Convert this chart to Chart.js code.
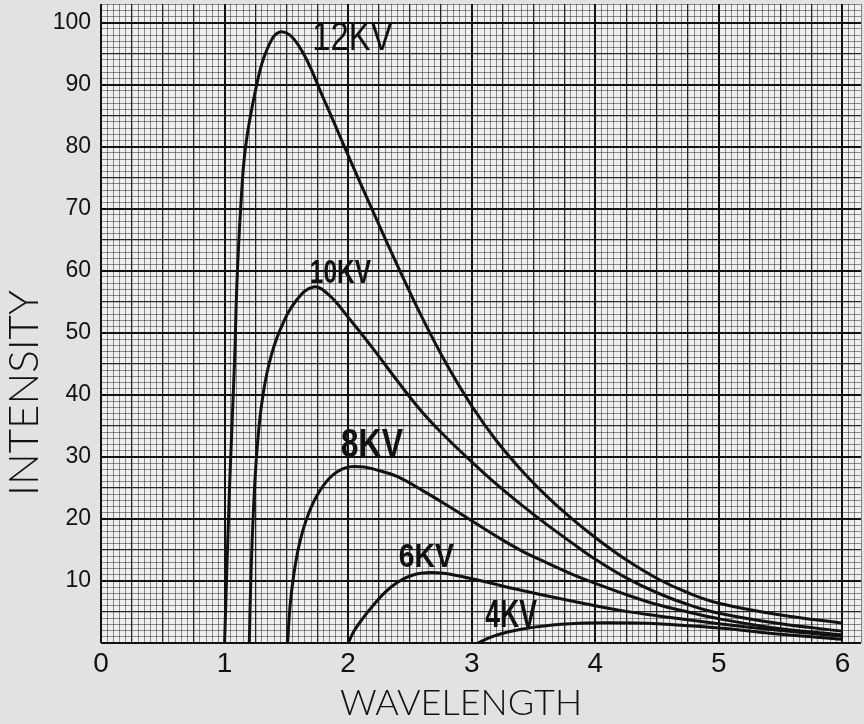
<!DOCTYPE html>
<html>
<head>
<meta charset="utf-8">
<script src="https://cdn.jsdelivr.net/npm/chart.js@4.4.1/dist/chart.umd.min.js"></script>
<style>
  html, body { margin: 0; padding: 0; background: #e2e2e2; }
  #wrap { width: 864px; height: 724px; }
</style>
</head>
<body>
<div id="wrap"><canvas id="chart"></canvas></div>
<script>
// curve values
const curveNames = ['12KV', '10KV', '8KV', '6KV', '4KV'];

const wl12 = [1.0, 1.04, 1.08, 1.10, 1.13, 1.17, 1.26, 1.34, 1.45, 1.6, 1.8, 2.0, 2.2, 2.4, 2.6, 2.8, 3.0, 3.2, 3.4, 3.6, 3.8, 4.0, 4.25, 4.5, 4.75, 5.0, 5.5, 6.0];
const int12 = [0, 25, 45, 58, 70, 80, 90, 95.5, 98.5, 96.3, 87.8, 78.6, 69.6, 60.8, 52.4, 44.8, 38.2, 32.6, 27.9, 23.8, 20.2, 17, 13.4, 10.4, 8.1, 6.4, 4.5, 3.2];

const wl10 = [1.2, 1.215, 1.235, 1.26, 1.3, 1.36, 1.45, 1.58, 1.72, 1.85, 2.0, 2.2, 2.4, 2.6, 2.8, 3.0, 3.2, 3.4, 3.6, 3.8, 4.0, 4.25, 4.5, 4.75, 5.0, 5.5, 6.0];
const int10 = [0, 12, 22, 30.5, 38.5, 45, 50.5, 55.2, 57.4, 56, 52.5, 47.5, 42.2, 37.2, 33, 29.2, 25.6, 22.3, 19.2, 16.3, 13.5, 10.5, 8.1, 6.2, 4.8, 3.1, 1.9];

const wl8 = [1.51, 1.53, 1.56, 1.6, 1.66, 1.74, 1.85, 1.97, 2.1, 2.25, 2.4, 2.6, 2.8, 3.0, 3.2, 3.4, 3.6, 3.8, 4.0, 4.25, 4.5, 4.75, 5.0, 5.5, 6.0];
const int8 = [0, 6, 11, 15.5, 19.8, 23.5, 26.6, 28.2, 28.4, 27.8, 26.8, 24.6, 22.2, 19.7, 17.2, 14.9, 13, 11.2, 9.6, 7.8, 6.2, 5, 3.9, 2.3, 1.3];

const wl6 = [2.0, 2.05, 2.12, 2.2, 2.3, 2.4, 2.5, 2.6, 2.75, 2.9, 3.1, 3.4, 3.7, 4.0, 4.25, 4.5, 5.0, 5.5, 6.0];
const int6 = [0, 2, 4, 6, 8.2, 9.8, 10.8, 11.3, 11.3, 10.8, 9.9, 8.5, 7.2, 6, 5.1, 4.4, 3.1, 2, 1.1];

const wl4 = [3.05, 3.15, 3.3, 3.52, 3.8, 4.1, 4.5, 5.0, 5.5, 6.0];
const int4 = [0, 0.9, 1.8, 2.6, 3.1, 3.25, 3.1, 2.4, 1.4, 0.6];

const xTickLabels = ['0', '1', '2', '3', '4', '5', '6'];
const yTickLabels = ['10', '20', '30', '40', '50', '60', '70', '80', '90', '100'];
const xTitle = 'WAVELENGTH';
const yTitle = 'INTENSITY';

// where each curve's hand-written label sits (wavelength, intensity)
const labelAtX = [1.71, 1.69, 1.94, 2.41, 3.11];
const labelAtY = [95.6, 58, 30, 12.3, 2.6];

const seriesX = [wl12, wl10, wl8, wl6, wl4];
const seriesY = [int12, int10, int8, int6, int4];

const datasets = curveNames.map((name, i) => ({
  label: name,
  data: seriesX[i].map((x, j) => ({ x: x, y: seriesY[i][j] })),
  borderColor: '#111',
  borderWidth: 3,
  pointRadius: 0,
  fill: false,
  tension: 0.4
}));

// lettering: font and horizontal squeeze per label
const labelFonts = [
  '40px "Liberation Sans"',
  'bold 34px "Liberation Sans"',
  'bold 40px "Liberation Sans"',
  'bold 33px "Liberation Sans"',
  'bold 38px "Liberation Sans"'
];
const labelSqueeze = [0.82, 0.72, 0.8, 0.86, 0.7];

// graph paper line weights
function xKind(v) {
  const n = Math.round(v * 20);
  if (n % 20 === 0) return 2;
  if (n % 5 === 0) return 1;
  return 0;
}
function yKind(v) {
  const n = Math.round(v);
  if (n % 10 === 0) return 2;
  if (n % 5 === 0) return 1;
  return 0;
}
const paperColor = ['rgba(25,25,25,0.6)', 'rgba(15,15,15,0.9)', '#111'];
const paperWidth = [0.8, 1.3, 2];

const paperPlugin = {
  id: 'paper',
  beforeDraw(chart) {
    const { ctx, chartArea } = chart;
    ctx.save();
    ctx.fillStyle = '#e2e2e2';
    ctx.fillRect(0, 0, chart.width, chart.height);
    ctx.fillStyle = '#f0f0f0';
    ctx.fillRect(chartArea.left, chartArea.top, chartArea.right - chartArea.left, chartArea.bottom - chartArea.top);
    ctx.restore();
  },
  afterDraw(chart) {
    // axis titles sit off-centre on the original sheet
    const { ctx } = chart;
    ctx.save();
    ctx.fillStyle = '#111';
    ctx.textAlign = 'center';
    ctx.textBaseline = 'alphabetic';
    ctx.font = '300 36px Lato';
    ctx.fillText(xTitle, 461, 715);
    ctx.translate(38, 393);
    ctx.rotate(-Math.PI / 2);
    ctx.font = '300 42px Lato';
    ctx.fillText(yTitle, 0, 0);
    ctx.restore();
  }
};

const curveLabelPlugin = {
  id: 'curveLabels',
  afterDatasetsDraw(chart) {
    const { ctx, scales } = chart;
    curveNames.forEach((name, i) => {
      ctx.save();
      ctx.textAlign = 'left';
      ctx.textBaseline = 'alphabetic';
      ctx.font = labelFonts[i];
      ctx.translate(scales.x.getPixelForValue(labelAtX[i]), scales.y.getPixelForValue(labelAtY[i]));
      ctx.scale(labelSqueeze[i], 1);
      ctx.fillStyle = '#111';
      ctx.fillText(name, 0, 0);
      ctx.restore();
    });
  }
};

new Chart(document.getElementById('chart'), {
  type: 'line',
  data: { datasets: datasets },
  plugins: [paperPlugin, curveLabelPlugin],
  options: {
    responsive: true,
    maintainAspectRatio: false,
    animation: false,
    layout: { padding: { top: 4, right: 3, left: 0, bottom: 0 } },
    plugins: { legend: { display: false }, tooltip: { enabled: false } },
    scales: {
      x: {
        type: 'linear',
        min: 0,
        max: 6.15,
        border: { display: false },
        grid: {
          drawTicks: false,
          color: c => paperColor[xKind(c.tick.value)],
          lineWidth: c => paperWidth[xKind(c.tick.value)]
        },
        ticks: {
          stepSize: 0.05,
          autoSkip: false,
          maxRotation: 0,
          minRotation: 0,
          padding: 4,
          color: '#111',
          font: { family: 'Liberation Sans', size: 28 },
          callback: v => {
            const n = Math.round(v * 20);
            return n % 20 === 0 ? xTickLabels[n / 20] || '' : '';
          }
        },
        afterFit: s => { s.height = 81; s.paddingLeft = 0; s.paddingRight = 0; }
      },
      y: {
        min: 0,
        max: 103,
        border: { display: false },
        grid: {
          drawTicks: false,
          color: c => paperColor[yKind(c.tick.value)],
          lineWidth: c => paperWidth[yKind(c.tick.value)]
        },
        ticks: {
          stepSize: 1,
          autoSkip: false,
          padding: 10,
          color: '#111',
          font: { family: 'Liberation Sans', size: 23 },
          callback: v => {
            const n = Math.round(v);
            return (n % 10 === 0 && n > 0) ? yTickLabels[n / 10 - 1] || '' : '';
          }
        },
        afterFit: s => { s.width = 101; s.paddingTop = 0; s.paddingBottom = 0; }
      }
    }
  }
});
</script>
</body>
</html>
